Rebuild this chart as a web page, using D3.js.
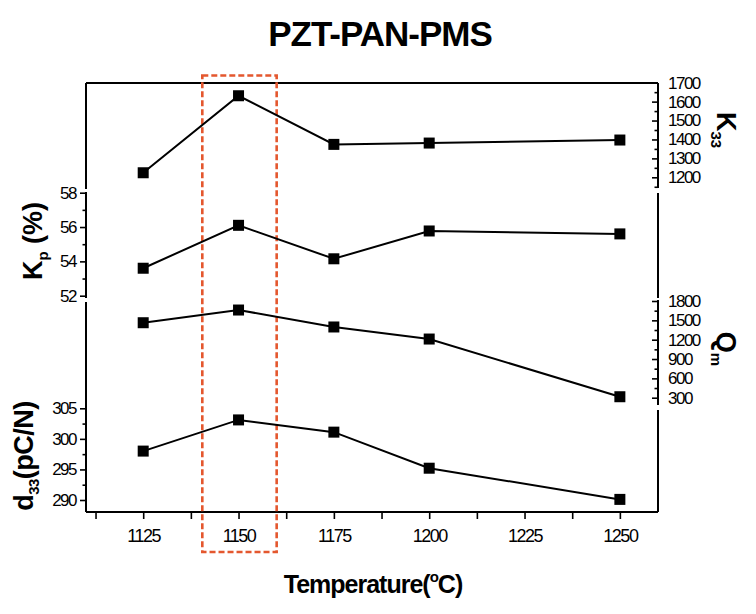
<!DOCTYPE html>
<html><head><meta charset="utf-8">
<script src="https://cdn.jsdelivr.net/npm/d3@7"></script>
<style>body{margin:0;background:#fff}</style>
</head><body>
<script>
const temps = [1125, 1150, 1175, 1200, 1250];
const k33 = [1224, 1631, 1374, 1381, 1397];
const kp = [53.6, 56.1, 54.15, 55.77, 55.6];
const qm = [1463, 1660, 1397, 1210, 315];
const d33 = [298.0, 303.1, 301.1, 295.2, 290.1];
const xTicks = [1125, 1150, 1175, 1200, 1225, 1250];
const xMinor = [1112.5, 1137.5, 1162.5, 1187.5, 1212.5, 1237.5];
const k33Ticks = [1200, 1300, 1400, 1500, 1600, 1700];
const k33Minor = [1150, 1250, 1350, 1450, 1550, 1650];
const kpTicks = [52, 54, 56, 58];
const kpMinor = [53, 55, 57];
const qmTicks = [300, 600, 900, 1200, 1500, 1800];
const qmMinor = [450, 750, 1050, 1350, 1650];
const d33Ticks = [290, 295, 300, 305];
const d33Minor = [292.5, 297.5, 302.5];
const highlight = [1140.5, 1160];

const W = 756, H = 614;
const L = 86, R = 658, T = 83, B = 512;
const svg = d3.select("body").append("svg").attr("width", W).attr("height", H)
  .style("font-family", "'Liberation Sans', Arial, sans-serif");

const x = d3.scaleLinear().domain([1110, 1260]).range([L, R]);
const yK33 = d3.scaleLinear().domain([1200, 1700]).range([177.3, 82.7]);
const yKp = d3.scaleLinear().domain([52, 58]).range([295.7, 192.7]);
const yQm = d3.scaleLinear().domain([300, 1800]).range([397.7, 301]);
const yD33 = d3.scaleLinear().domain([290, 305]).range([500, 408.3]);

svg.append("line").attr("x1", L).attr("x2", R).attr("y1", T).attr("y2", T).attr("stroke", "#000").attr("stroke-width", 2);
svg.append("line").attr("x1", L).attr("x2", R).attr("y1", B).attr("y2", B).attr("stroke", "#000").attr("stroke-width", 2);
[[T, 189], [192, 298], [302, B]].forEach(s =>
  svg.append("line").attr("x1", L).attr("x2", L).attr("y1", s[0]).attr("y2", s[1]).attr("stroke", "#000").attr("stroke-width", 2));
[[T, 188], [193, 298], [300, 405], [410, B]].forEach(s =>
  svg.append("line").attr("x1", R).attr("x2", R).attr("y1", s[0]).attr("y2", s[1]).attr("stroke", "#000").attr("stroke-width", 2));

function styleAxis(g, fs) {
  g.select(".domain").remove();
  g.selectAll(".tick line").attr("stroke", "#000").attr("stroke-width", 1.6);
  g.selectAll(".tick text").attr("fill", "#000").style("font-size", (fs || 17) + "px").style("letter-spacing", "-1.5px");
}

const gx = svg.append("g").attr("transform", `translate(0,${B})`)
  .call(d3.axisBottom(x).tickValues(xTicks).tickFormat(d3.format("d")).tickSize(7).tickPadding(10));
styleAxis(gx, 18);
const gxm = svg.append("g").attr("transform", `translate(0,${B})`)
  .call(d3.axisBottom(x).tickValues(xMinor).tickFormat("").tickSize(7));
styleAxis(gxm);

function leftAxis(scale, major, minor) {
  const g = svg.append("g").attr("transform", `translate(${L},0)`)
    .call(d3.axisLeft(scale).tickValues(major).tickFormat(d3.format("d")).tickSize(6).tickPadding(4));
  styleAxis(g, 17);
  const gm = svg.append("g").attr("transform", `translate(${L},0)`)
    .call(d3.axisLeft(scale).tickValues(minor).tickFormat("").tickSize(3.5));
  styleAxis(gm);
}
leftAxis(yKp, kpTicks, kpMinor);
leftAxis(yD33, d33Ticks, d33Minor);

function rightAxis(scale, major, minor) {
  const g = svg.append("g").attr("transform", `translate(${R},0)`)
    .call(d3.axisRight(scale).tickValues(major).tickFormat(d3.format("d")).tickSizeInner(-6).tickSizeOuter(0).tickPadding(10));
  styleAxis(g, 17);
  const gm = svg.append("g").attr("transform", `translate(${R},0)`)
    .call(d3.axisRight(scale).tickValues(minor).tickFormat("").tickSizeInner(-3.5).tickSizeOuter(0));
  styleAxis(gm);
}
rightAxis(yK33, k33Ticks, k33Minor);
rightAxis(yQm, qmTicks, qmMinor);

svg.append("rect")
  .attr("x", x(highlight[0])).attr("width", x(highlight[1]) - x(highlight[0]))
  .attr("y", 75.5).attr("height", 552 - 75.5)
  .attr("fill", "none").attr("stroke", "#e4572e").attr("stroke-width", 2.6)
  .attr("stroke-dasharray", "6,3");

const series = [[k33, yK33], [kp, yKp], [qm, yQm], [d33, yD33]];
series.forEach(([vals, y]) => {
  const pts = temps.map((t, i) => [x(t), y(vals[i])]);
  svg.append("path").attr("d", d3.line()(pts)).attr("fill", "none")
    .attr("stroke", "#000").attr("stroke-width", 2);
  svg.selectAll(null).data(pts).enter().append("rect")
    .attr("x", d => d[0] - 5.5).attr("y", d => d[1] - 5.5)
    .attr("width", 11).attr("height", 11).attr("fill", "#000");
});

svg.append("text").attr("x", 380).attr("y", 46).attr("text-anchor", "middle")
  .style("font-size", "35px").style("font-weight", "bold").style("letter-spacing", "-1px")
  .text("PZT-PAN-PMS");

const xt = svg.append("text").attr("x", 373).attr("y", 593).attr("text-anchor", "middle")
  .style("font-size", "25px").style("font-weight", "bold").style("letter-spacing", "-1px");
xt.append("tspan").text("Temperature(");
xt.append("tspan").attr("dy", -11).style("font-size", "15px").text("o");
xt.append("tspan").attr("dy", 11).text("C)");

const kpT = svg.append("text").attr("transform", "translate(42,241) rotate(-90)")
  .attr("text-anchor", "middle").style("font-size", "27px").style("font-weight", "bold");
kpT.append("tspan").text("K");
kpT.append("tspan").attr("dy", 6).style("font-size", "15px").text("p");
kpT.append("tspan").attr("dy", -6).text(" (%)");

const dT = svg.append("text").attr("transform", "translate(33,456) rotate(-90)")
  .attr("text-anchor", "middle").style("font-size", "27px").style("font-weight", "bold").style("letter-spacing", "-0.5px");
dT.append("tspan").text("d");
dT.append("tspan").attr("dy", 6).style("font-size", "15px").text("33");
dT.append("tspan").attr("dy", -6).text("(pC/N)");

const kT = svg.append("text").attr("transform", "translate(717,130) rotate(90)")
  .attr("text-anchor", "middle").style("font-size", "27px").style("font-weight", "bold");
kT.append("tspan").text("K");
kT.append("tspan").attr("dy", 6).style("font-size", "15px").text("33");

const qT = svg.append("text").attr("transform", "translate(717,349) rotate(90)")
  .attr("text-anchor", "middle").style("font-size", "27px").style("font-weight", "bold");
qT.append("tspan").text("Q");
qT.append("tspan").attr("dy", 6).style("font-size", "15px").text("m");
</script>
</body></html>
